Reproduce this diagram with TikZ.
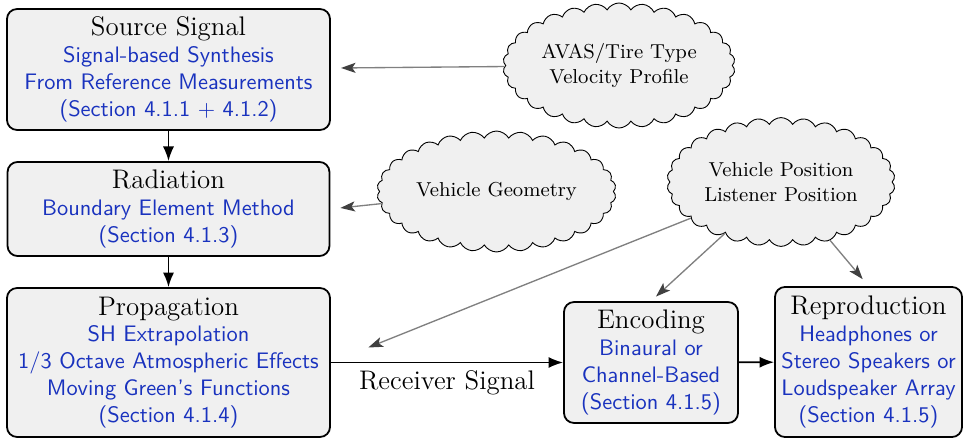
\documentclass[tikz,border=0pt]{standalone}
\usetikzlibrary{shapes.symbols,arrows.meta,calc}
\definecolor{boxfill}{gray}{0.94}
\definecolor{bluetxt}{RGB}{25,50,190}
\newcommand\bt[1]{{\sffamily\color{bluetxt}#1}}
\begin{document}
\begin{tikzpicture}[x=0.4464pt,y=-0.4464pt,
  box/.style={draw, thick, rounded corners=4.5pt, fill=boxfill, align=center, inner sep=1pt},
  cloudnode/.style={cloud, cloud puffs=30, cloud puff arc=120, cloud ignores aspect, draw, thin, fill=boxfill, align=center, font=\small, inner sep=0pt},
  blackarrow/.style={thick, -{Latex[length=6.5pt,width=5pt]}},
  grayarrow/.style={draw=gray, semithick, -{Stealth[length=6.5pt,width=4.5pt,inset=1.5pt,black!75]}}]
\useasboundingbox (0,0) rectangle (966,438);

\node[box, minimum width=144.2pt, minimum height=54pt] (src) at (168.5,69.5)
  {{\large Source Signal}\\ \bt{Signal-based Synthesis}\\ \bt{From Reference Measurements}\\ \bt{(Section 4.1.1 $+$ 4.1.2)}};
\node[box, minimum width=143.7pt, minimum height=42pt] (rad) at (168.5,209)
  {{\large Radiation}\\ \bt{Boundary Element Method}\\ \bt{(Section 4.1.3)}};
\node[box, minimum width=144.2pt, minimum height=66.5pt] (prop) at (168.5,362.5)
  {{\large Propagation}\\ \bt{SH Extrapolation}\\ \bt{1/3 Octave Atmospheric Effects}\\ \bt{Moving Green's Functions}\\ \bt{(Section 4.1.4)}};
\node[box, minimum width=77.7pt, minimum height=54pt] (enc) at (651,362.5)
  {{\large Encoding}\\ \bt{Binaural or}\\ \bt{Channel-Based}\\ \bt{(Section 4.1.5)}};
\node[box, minimum width=83.5pt, minimum height=67pt] (rep) at (868.5,362)
  {{\large Reproduction}\\ \bt{Headphones or}\\ \bt{Stereo Speakers or}\\ \bt{Loudspeaker Array}\\ \bt{(Section 4.1.5)}};

\node[cloudnode, minimum width=103.6pt, minimum height=55.8pt] (c1) at (619,65.5)
  {AVAS/Tire Type\\ Velocity Profile};
\node[cloudnode, minimum width=106.7pt, minimum height=54pt] (c2) at (496.5,191.5)
  {Vehicle Geometry};
\node[cloudnode, minimum width=101.8pt, minimum height=57.5pt] (c3) at (781,182)
  {Vehicle Position\\ Listener Position};

\draw[blackarrow] (src) -- (rad);
\draw[blackarrow] (rad) -- (prop);
\draw[blackarrow] (prop.east) -- node[below, font=\large, pos=0.5] {Receiver Signal} (enc.west);
\draw[blackarrow] (enc) -- (rep);

\draw[grayarrow, shorten >=4.5pt] (c1) -- (src);
\draw[grayarrow, shorten >=4.5pt] (c2) -- (rad.east);
\draw[grayarrow, shorten >=18pt] (c3) -- (prop.east);
\draw[grayarrow, shorten >=3pt] (c3) -- (enc.north);
\draw[grayarrow, shorten >=4pt] (c3) -- (rep.north);
\end{tikzpicture}
\end{document}
